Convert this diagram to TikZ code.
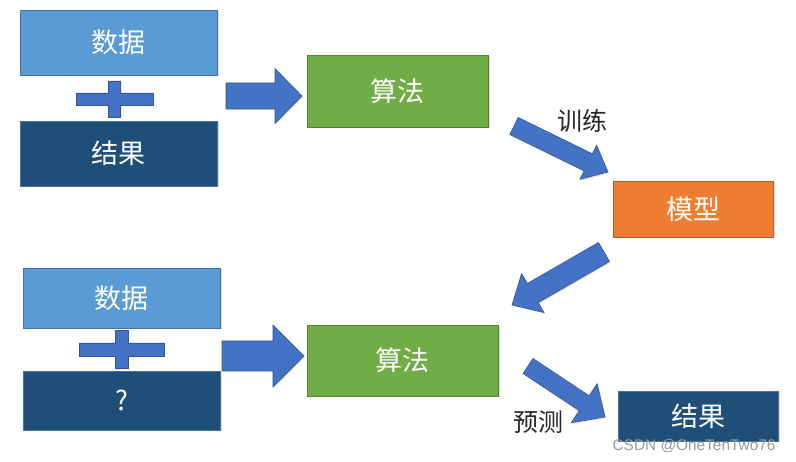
\documentclass[tikz,border=0pt]{standalone}
\usepackage{fontspec}
\newfontfamily\cjk{Noto Sans CJK SC}
\newfontfamily\wmfont{Liberation Sans}
\usetikzlibrary{calc,shadows}
\definecolor{datablue}{HTML}{5B9BD5}
\definecolor{resultblue}{HTML}{1F4E79}
\definecolor{algogreen}{HTML}{70AD47}
\definecolor{modelorange}{HTML}{ED7D31}
\definecolor{arrowblue}{HTML}{4472C4}
\definecolor{labelgray}{HTML}{262626}
\newcommand{\blockarrow}[5]{
  \coordinate (hb) at ($(#2)!#5!(#1)$);
  \draw[bigarrow] ($(#1)!#3!90:(#2)$) -- ($(hb)!#3!90:(#2)$) -- ($(hb)!#4!90:(#2)$) -- (#2)
    -- ($(hb)!#4!-90:(#2)$) -- ($(hb)!#3!-90:(#2)$) -- ($(#1)!#3!-90:(#2)$) -- cycle;
}
\begin{document}
\begin{tikzpicture}[x=1pt, y=-1pt,
    box/.style={rectangle, line width=0.8pt, text=white, inner sep=0pt,
      font=\cjk\fontsize{27}{32}\selectfont,
      drop shadow={shadow xshift=1.5pt, shadow yshift=-1.5pt, opacity=0.25}},
    bigarrow/.style={fill=arrowblue, draw=arrowblue!75!black, line width=0.6pt, line join=miter,
      drop shadow={shadow xshift=1.2pt, shadow yshift=-1.2pt, opacity=0.2}},
    plusmark/.style={fill=arrowblue, draw=arrowblue!75!black, line width=0.6pt,
      drop shadow={shadow xshift=1.2pt, shadow yshift=-1.2pt, opacity=0.2}},
    steplabel/.style={text=labelgray, font=\cjk\fontsize{25}{30}\selectfont}]
  \useasboundingbox (0,0) rectangle (796,462);

  \node[box, fill=datablue, draw=datablue!75!black, minimum width=197, minimum height=65] (data1) at (118.5,42.5) {数据};
  \node[box, fill=resultblue, draw=datablue!75!black, minimum width=197, minimum height=65] (res1) at (118.5,153.5) {结果};
  \node[box, fill=algogreen, draw=algogreen!75!black, minimum width=181, minimum height=72] (algo1) at (397.5,91) {算法};
  \node[box, fill=modelorange, draw=modelorange!75!black, minimum width=160, minimum height=56] (model) at (693,209) {模型};
  \node[box, fill=datablue, draw=datablue!75!black, minimum width=197, minimum height=60] (data2) at (121.5,298) {数据};
  \node[box, fill=resultblue, draw=datablue!75!black, minimum width=197, minimum height=59] (unknown) at (121.5,400.5) {?};
  \node[box, fill=algogreen, draw=algogreen!75!black, minimum width=191, minimum height=71] (algo2) at (402.5,360.5) {算法};
  \node[box, fill=resultblue, draw=datablue!75!black, minimum width=160, minimum height=50] (res2) at (698,416) {结果};

  \draw[plusmark, shift={(114.5,99)}] (-38.5,-6) -- (-6,-6) -- (-6,-18) -- (6,-18) -- (6,-6) -- (38.5,-6)
    -- (38.5,6) -- (6,6) -- (6,18) -- (-6,18) -- (-6,6) -- (-38.5,6) -- cycle;
  \draw[plusmark, shift={(121.5,349.5)}] (-42.5,-6.5) -- (-6.5,-6.5) -- (-6.5,-19) -- (6.5,-19) -- (6.5,-6.5) -- (42.5,-6.5)
    -- (42.5,6.5) -- (6.5,6.5) -- (6.5,19) -- (-6.5,19) -- (-6.5,6.5) -- (-42.5,6.5) -- cycle;

  \coordinate (a1s) at (226,96);
  \coordinate (a1e) at (302,96);
  \coordinate (a2s) at (514,126);
  \coordinate (a2e) at (608,172);
  \coordinate (a3s) at (604,252);
  \coordinate (a3e) at (512,305);
  \coordinate (a4s) at (222,356);
  \coordinate (a4e) at (304,356);
  \coordinate (a5s) at (528,366);
  \coordinate (a5e) at (605,417);
  \blockarrow{a1s}{a1e}{13pt}{27.5pt}{27pt}
  \blockarrow{a2s}{a2e}{9.5pt}{19pt}{22pt}
  \blockarrow{a3s}{a3e}{11pt}{22.5pt}{24pt}
  \blockarrow{a4s}{a4e}{15pt}{31pt}{31pt}
  \blockarrow{a5s}{a5e}{9pt}{23.5pt}{25pt}

  \node[steplabel] (train) at (582,121) {训练};
  \node[steplabel] (predict) at (538,422) {预测};
  \node[text=gray!80, font=\wmfont\fontsize{15.4}{18}\selectfont, anchor=east] (mark) at (779,446) {CSDN @OneTenTwo76};
\end{tikzpicture}
\end{document}
